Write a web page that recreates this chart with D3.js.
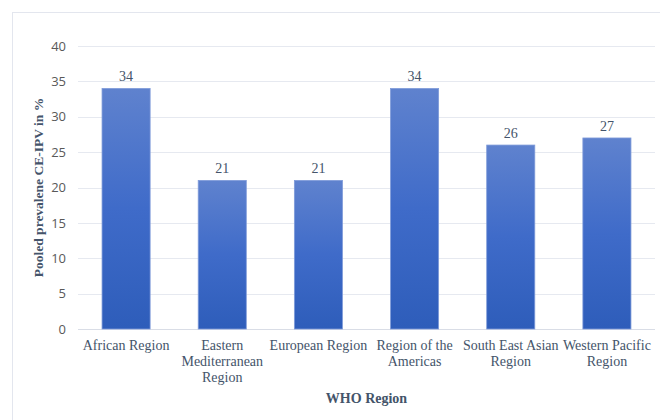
<!DOCTYPE html>
<html><head><meta charset="utf-8">
<script src="https://cdn.jsdelivr.net/npm/d3@7"></script>
<style>body{margin:0;background:#fff}</style>
</head><body><svg id="c" width="660" height="420"></svg>
<script>
const categories = [["African Region"],["Eastern","Mediterranean","Region"],["European Region"],["Region of the","Americas"],["South East Asian","Region"],["Western Pacific","Region"]];
const values = [34,21,21,34,26,27];
const yTicks = [0,5,10,15,20,25,30,35,40];
const yTitle = "Pooled prevalene CE-IPV in %";
const xTitle = "WHO Region";

const svg = d3.select("#c");
const m = {l:78, r:5, t:46, b:91};
const W = 660, H = 420;
const x = d3.scaleBand().domain(d3.range(categories.length)).range([m.l, W-m.r]).paddingInner(0.5).paddingOuter(0.25);
const y = d3.scaleLinear().domain([0,40]).range([H-m.b, m.t]);

// outer border
svg.append("rect").attr("x",12.5).attr("y",12.5).attr("width",660).attr("height",420).attr("fill","none").attr("stroke","#e3e6ee").attr("stroke-width",1);

const defs = svg.append("defs");
const g = defs.append("linearGradient").attr("id","bg").attr("x1",0).attr("y1",0).attr("x2",0).attr("y2",1);
g.append("stop").attr("offset","0%").attr("stop-color","#5f82ce");
g.append("stop").attr("offset","50%").attr("stop-color","#3f6bc9");
g.append("stop").attr("offset","100%").attr("stop-color","#2e5dba");

// gridlines
svg.append("g").selectAll("line").data(yTicks).join("line")
  .attr("x1",m.l).attr("x2",W-m.r).attr("y1",d=>Math.round(y(d))+0.5).attr("y2",d=>Math.round(y(d))+0.5)
  .attr("stroke",d=>d===0?"#d9dde6":"#e6e9f0").attr("stroke-width",1);

// y axis labels
const ya = svg.append("g").attr("transform",`translate(${m.l-12},0)`).call(d3.axisLeft(y).tickValues(yTicks).tickSize(0).tickPadding(0));
ya.select(".domain").remove();
ya.selectAll("text").attr("font-family","'Open Sans', 'Liberation Sans', sans-serif").attr("font-size",13).attr("fill","#595959");

// bars
svg.append("g").selectAll("rect").data(values).join("rect")
  .attr("x",(d,i)=>x(i)).attr("width",x.bandwidth())
  .attr("y",d=>y(d)).attr("height",d=>y(0)-y(d))
  .attr("fill","url(#bg)").attr("stroke","#7f9bd9").attr("stroke-width",0.8);

// data labels
svg.append("g").selectAll("text").data(values).join("text")
  .attr("x",(d,i)=>x(i)+x.bandwidth()/2).attr("y",d=>y(d)-7)
  .attr("text-anchor","middle").attr("font-family","'Liberation Serif', serif").attr("font-size",14).attr("fill","#44546a")
  .text(d=>d);

// category labels
const cl = svg.append("g").selectAll("text").data(categories).join("text")
  .attr("x",(d,i)=>x(i)+x.bandwidth()/2).attr("y",y(0)+21)
  .attr("text-anchor","middle").attr("font-family","'Liberation Serif', serif").attr("font-size",14).attr("fill","#44546a");
cl.each(function(d,i){
  const t = d3.select(this);
  d.forEach((s,j)=>t.append("tspan").attr("x",x(i)+x.bandwidth()/2).attr("dy",j===0?0:16).text(s));
});

// axis titles
svg.append("text").attr("x",(m.l+W-m.r)/2).attr("y",403).attr("text-anchor","middle")
  .attr("font-family","'Liberation Serif', serif").attr("font-weight","bold").attr("font-size",14).attr("fill","#44546a").text(xTitle);
svg.append("text").attr("transform",`translate(43,${(y(0)+y(40))/2}) rotate(-90)`).attr("text-anchor","middle")
  .attr("font-family","'Liberation Serif', serif").attr("font-weight","bold").attr("font-size",13.5).attr("fill","#44546a").text(yTitle);
</script></body></html>
